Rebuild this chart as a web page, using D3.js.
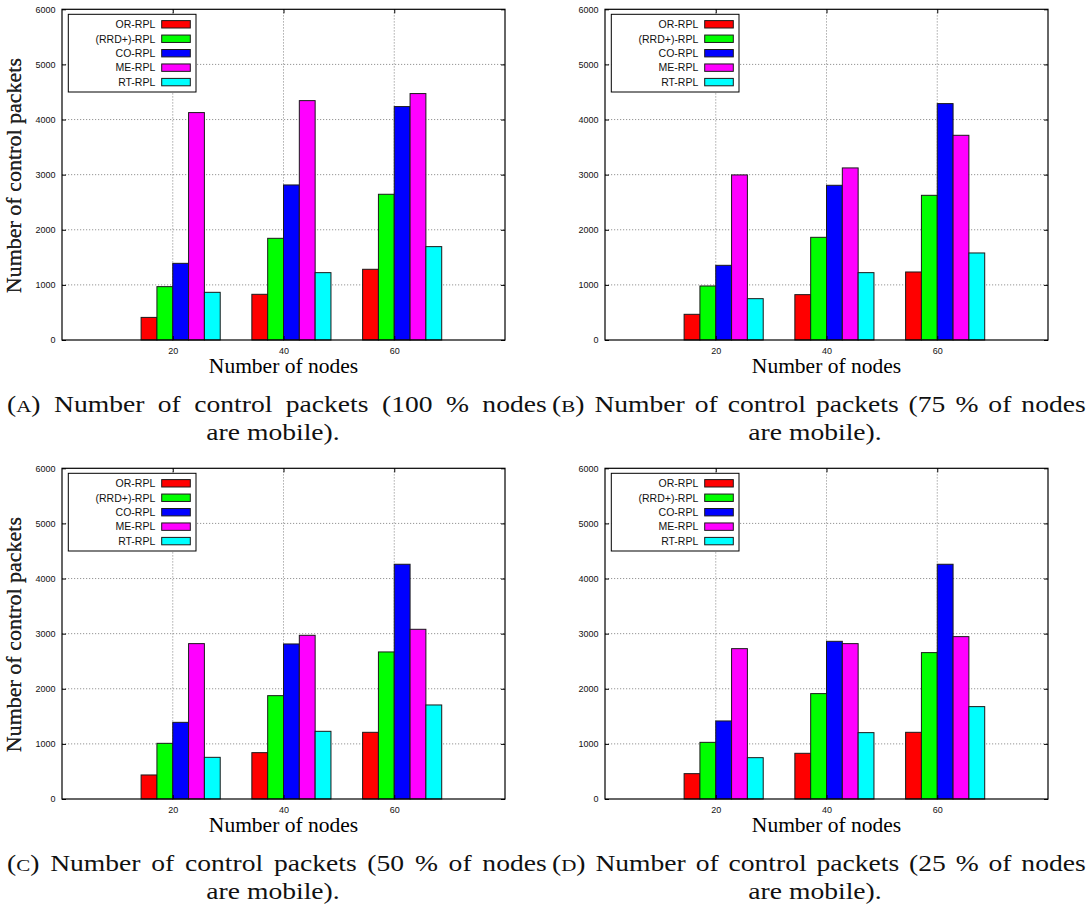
<!DOCTYPE html>
<html>
<head>
<meta charset="utf-8">
<script src="https://cdn.jsdelivr.net/npm/d3@7"></script>
<style>
  body { margin: 0; background: #fff; }
  svg { display: block; }
</style>
</head>
<body>
<div id="chart"></div>
<script>
(function (d3) {
    "use strict";

    /***** Données *****/

    const protocols = ["OR-RPL", "(RRD+)-RPL", "CO-RPL", "ME-RPL", "RT-RPL"];
    const colors = ["#ff0000", "#00ff00", "#0000ff", "#ff00ff", "#00ffff"];
    const nodes = [20, 40, 60];
    const yTicks = [0, 1000, 2000, 3000, 4000, 5000, 6000];

    // une ligne par protocole, une valeur par nombre de noeuds
    const packets100 = [[410, 829, 1283], [968, 1845, 2644], [1391, 2813, 4235], [4126, 4343, 4471], [865, 1222, 1694]];
    const packets75 = [[466, 823, 1234], [980, 1863, 2625], [1355, 2807, 4289], [2995, 3122, 3714], [750, 1222, 1579]];
    const packets50 = [[436, 841, 1210], [1010, 1875, 2668], [1391, 2813, 4259], [2819, 2970, 3079], [756, 1228, 1706]];
    const packets25 = [[460, 829, 1210], [1028, 1912, 2656], [1416, 2861, 4259], [2728, 2819, 2946], [750, 1204, 1676]];

    const captionsTop = ["A", "B", "C", "D"];
    const captionsText = [
        " Number of control packets (100 % nodes",
        " Number of control packets (75 % of nodes",
        " Number of control packets (50 % of nodes",
        " Number of control packets (25 % of nodes"
    ];
    const captionEnd = "are mobile).";

    /***** Configuration *****/

    const width = 1089, height = 909;
    const plot_w = 443, plot_h = 330.7;
    const panels = [
        { x: 62, y: 9.3, data: packets100 },
        { x: 605, y: 9.3, data: packets75 },
        { x: 62, y: 468.3, data: packets50 },
        { x: 605, y: 468.3, data: packets25 }
    ];
    const serif = "'Liberation Serif', 'Times New Roman', serif";
    const sans = "'Liberation Sans', Arial, sans-serif";

    var x = d3.scaleLinear().domain([0, 80]).range([0, plot_w]);
    var y = d3.scaleLinear().domain([0, 6000]).range([plot_h, 0]);
    const barW = 20 / 7; // largeur d'une barre en unités de x

    var svg = d3.select("#chart").append("svg")
        .attr("width", width)
        .attr("height", height);

    svg.append("rect").attr("width", width).attr("height", height).attr("fill", "#fff");

    panels.forEach(function (p, pi) {
        var g = svg.append("g").attr("transform", "translate(" + p.x + "," + p.y + ")");

        // grille pointillée
        g.selectAll(".hgrid").data(yTicks.slice(1, -1)).enter().append("line")
            .attr("x1", 0).attr("x2", plot_w)
            .attr("y1", d => y(d)).attr("y2", d => y(d))
            .attr("stroke", "#8a8a8a").attr("stroke-width", 0.9)
            .attr("stroke-dasharray", "1.2,1.8");
        g.selectAll(".vgrid").data(nodes).enter().append("line")
            .attr("y1", 0).attr("y2", plot_h)
            .attr("x1", d => x(d)).attr("x2", d => x(d))
            .attr("stroke", "#8a8a8a").attr("stroke-width", 0.9)
            .attr("stroke-dasharray", "1.2,1.8");

        // barres
        p.data.forEach(function (serie, si) {
            g.selectAll(".bar" + si).data(serie).enter().append("rect")
                .attr("x", (d, i) => x(nodes[i] + (si - 2) * barW))
                .attr("width", x(barW) - x(0))
                .attr("y", d => y(d))
                .attr("height", d => y(0) - y(d))
                .attr("fill", colors[si])
                .attr("stroke", "#1a1a1a")
                .attr("stroke-width", 1);
        });

        // axes (ticks vers l'intérieur, en miroir)
        var left = g.append("g").call(d3.axisLeft(y).tickValues(yTicks).tickFormat(d3.format("d")).tickSize(-4).tickPadding(6.5));
        var bottom = g.append("g").attr("transform", "translate(0," + plot_h + ")")
            .call(d3.axisBottom(x).tickValues(nodes).tickFormat(d3.format("d")).tickSize(-4).tickPadding(7.5));
        var right = g.append("g").attr("transform", "translate(" + plot_w + ",0)")
            .call(d3.axisRight(y).tickValues(yTicks).tickSize(-4).tickFormat(""));
        var top = g.append("g")
            .call(d3.axisTop(x).tickValues(nodes).tickSize(-4).tickFormat(""));
        [left, bottom, right, top].forEach(function (a) {
            a.select(".domain").remove();
            a.selectAll("line").attr("stroke", "#000");
            a.selectAll("text")
                .attr("font-family", sans)
                .attr("font-size", "9px")
                .attr("fill", "#111");
        });

        // cadre
        g.append("rect")
            .attr("width", plot_w).attr("height", plot_h)
            .attr("fill", "none").attr("stroke", "#000").attr("stroke-width", 1.2);

        // titres des axes
        g.append("text")
            .attr("x", plot_w / 2).attr("y", plot_h + 33)
            .attr("text-anchor", "middle")
            .attr("font-family", serif)
            .attr("font-weight", "400")
            .attr("font-size", "21.5px")
            .text("Number of nodes");
        g.append("text")
            .attr("transform", "translate(" + (21 - p.x) + "," + (plot_h / 2 + 1) + ") rotate(-90)")
            .attr("text-anchor", "middle")
            .attr("font-family", serif)
            .attr("font-weight", "400")
            .attr("font-size", "22px")
            .attr("fill", "#222")
            .text("Number of control packets");

        // légende
        var leg = g.append("g").attr("transform", "translate(6.3,5)");
        leg.append("rect")
            .attr("width", 127.7).attr("height", 77.7)
            .attr("fill", "#fff").attr("stroke", "#000").attr("stroke-width", 1);
        protocols.forEach(function (name, si) {
            var cy = 10 + si * 14.45;
            leg.append("text")
                .attr("x", 87).attr("y", cy)
                .attr("dy", "0.36em")
                .attr("text-anchor", "end")
                .attr("font-family", sans)
                .attr("font-size", "10.5px")
                .attr("fill", "#111")
                .text(name);
            leg.append("rect")
                .attr("x", 93.4).attr("y", cy - 3.7)
                .attr("width", 28.6).attr("height", 7.4)
                .attr("fill", colors[si])
                .attr("stroke", "#1a1a1a").attr("stroke-width", 1);
        });

        // légende de la figure (texte justifié, police élargie)
        var capLeft = pi % 2 === 0 ? 7 : 552;
        var capRight = pi % 2 === 0 ? 547 : 1086;
        var capY = p.y + 403;
        var target = capRight - capLeft;
        var cap = svg.append("text")
            .attr("x", 0).attr("y", 0)
            .attr("font-family", serif)
            .attr("font-size", "23px")
            .attr("fill", "#111");
        cap.append("tspan").text("(");
        cap.append("tspan").attr("font-size", "17.5px").text(captionsTop[pi]);
        cap.append("tspan").text(")" + captionsText[pi]);
        var len = cap.node().getComputedTextLength();
        var sx = Math.min(1.2, target / len);
        var nSpaces = (captionsText[pi].match(/ /g) || []).length;
        var ws = (target / sx - len) / nSpaces;
        cap.attr("word-spacing", ws)
            .attr("transform", "translate(" + capLeft + "," + capY + ") scale(" + sx + ",1)");

        svg.append("text")
            .attr("transform", "translate(" + ((capLeft + capRight) / 2 - 4) + "," + (capY + 28) + ") scale(" + sx + ",1)")
            .attr("text-anchor", "middle")
            .attr("font-family", serif)
            .attr("font-size", "23px")
            .attr("fill", "#111")
            .text(captionEnd);
    });

})(d3);
</script>
</body>
</html>
